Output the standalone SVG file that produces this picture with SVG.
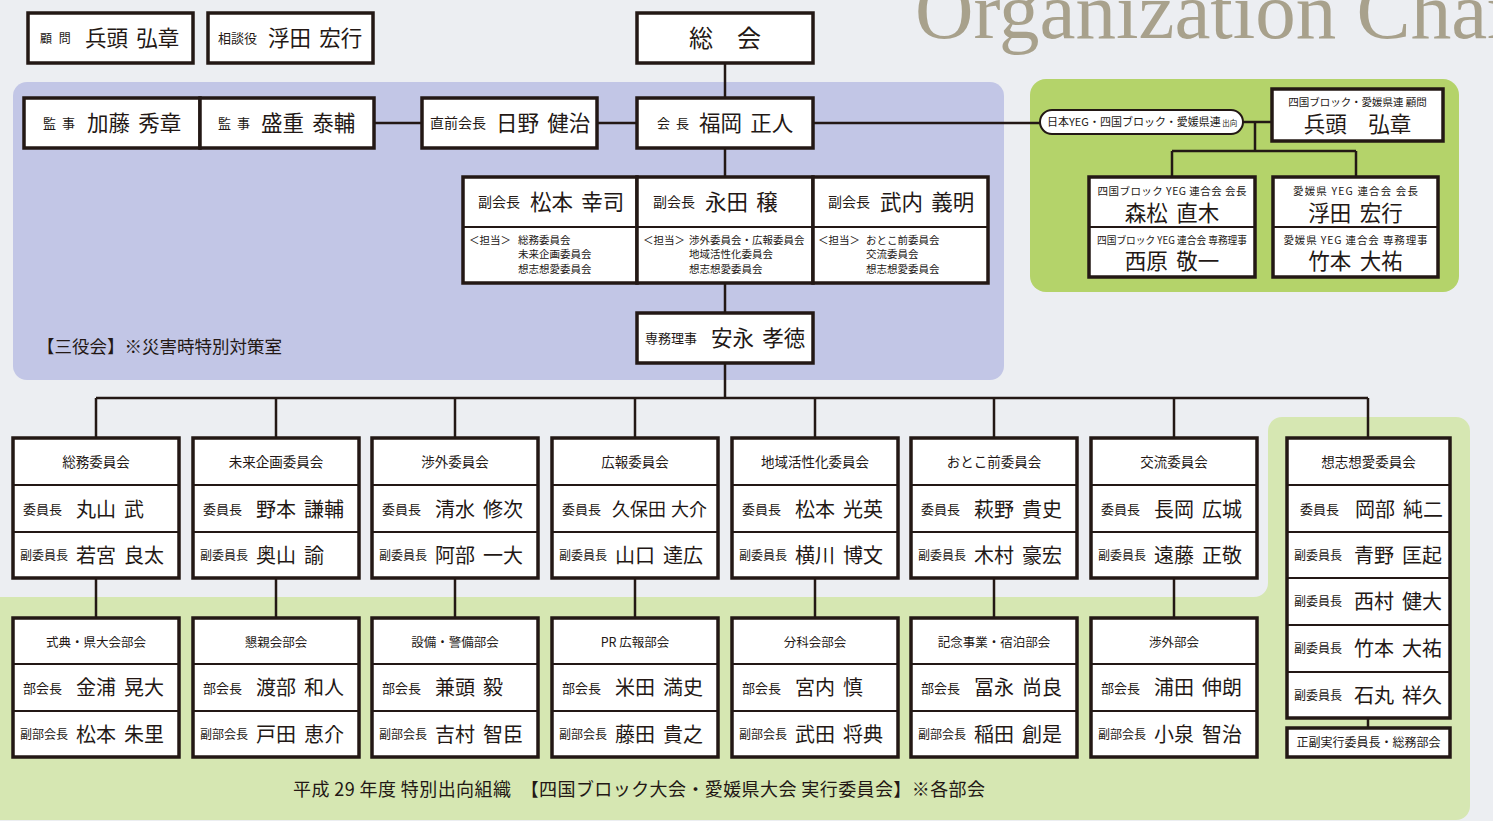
<svg xmlns="http://www.w3.org/2000/svg" width="1493" height="821" viewBox="0 0 1493 821">
<style>
.t{font-family:"Noto Sans CJK JP","Noto Sans",sans-serif;fill:#231815}
.box{fill:#fff;stroke:#231815;stroke-width:3.5}
.dv{stroke:#231815;stroke-width:2;fill:none}
.ln{stroke:#231815;stroke-width:2.5;fill:none}
.nm{font-size:20px;word-spacing:3.5px}
.nb{font-size:21.5px;word-spacing:3.5px}
.l13{font-size:13px;word-spacing:3px}
.l12{font-size:12px}
.l14{font-size:14px}
.hd{font-size:13.5px;text-anchor:middle}
.sh{font-size:12.5px;text-anchor:middle}
.tn{font-size:10.5px}
.gl{font-size:10.5px;text-anchor:middle}
.gn{font-size:21.5px;text-anchor:middle;word-spacing:3.5px}
</style>
<rect width="1493" height="821" fill="#eceef2"/>
<g id="panels">
<rect x="13" y="82" width="991" height="298" rx="14" fill="#c2c6e6"/>
<rect x="1030" y="79" width="429" height="213" rx="16" fill="#b4d36a"/>
<path d="M0,597 H1254 A14,14 0 0 0 1268,583 V431 A14,14 0 0 1 1282,417 H1456 A14,14 0 0 1 1470,431 V806 A14,14 0 0 1 1456,820 H0 Z" fill="#d6e7b2"/>
</g>
<g id="title"><text x="915" y="38" font-family="Liberation Serif" font-size="81" fill="#a8a18c">Organization Chart</text></g>
<g id="connectors" class="ln">
<path d="M725,63V98"/>
<path d="M374,123H422"/>
<path d="M597,123H637"/>
<path d="M813,123H1040"/>
<path d="M1243,122H1272"/>
<path d="M1255,122V151M1172,151H1356M1172,151V177M1356,151V177"/>
<path d="M725,148V177M725,283V313M725,363V398"/>
<path d="M96,398H1368"/>
<path d="M96,398V438M276,398V438M455,398V438M635,398V438M815,398V438M994,398V438M1174,398V438M1368,398V438"/>
<path d="M96,578V618M276,578V618M455,578V618M635,578V618M815,578V618M994,578V618M1174,578V618"/>
<path d="M1368,718V728"/>
</g>
<g id="komon"><rect class="box" x="28" y="13" width="165" height="50"/><text class="t l12" x="40" y="43" style="word-spacing:4px">顧 問</text><text class="t nb" x="85" y="46">兵頭 弘章</text></g>
<g id="sodanyaku"><rect class="box" x="208" y="13" width="165" height="50"/><text class="t l13" x="218" y="43">相談役</text><text class="t nb" x="268" y="46">浮田 宏行</text></g>
<g id="sokai"><rect class="box" x="637" y="13" width="176" height="50"/><text class="t" x="725" y="47" font-size="24" text-anchor="middle">総　会</text></g>
<g id="kanji1"><rect class="box" x="24" y="98" width="176" height="50"/><text class="t l13" x="43" y="128">監 事</text><text class="t nb" x="87" y="131">加藤 秀章</text></g>
<g id="kanji2"><rect class="box" x="200" y="98" width="174" height="50"/><text class="t l13" x="218" y="128">監 事</text><text class="t nb" x="261" y="131">盛重 泰輔</text></g>
<g id="zenkaicho"><rect class="box" x="422" y="98" width="175" height="50"/><text class="t l14" x="430" y="128">直前会長</text><text class="t nb" x="496" y="131">日野 健治</text></g>
<g id="kaicho"><rect class="box" x="637" y="98" width="176" height="50"/><text class="t l13" x="657" y="128">会 長</text><text class="t nb" x="699" y="131">福岡 正人</text></g>
<g id="vp1"><rect class="box" x="463" y="177" width="174" height="106"/><path class="dv" d="M463,227H637"/><text class="t l14" x="478" y="207">副会長</text><text class="t nb" x="530" y="210">松本 幸司</text><text class="t tn" x="469" y="244">＜担当＞</text><text class="t tn" x="518" y="244">総務委員会</text><text class="t tn" x="518" y="258">未来企画委員会</text><text class="t tn" x="518" y="273">想志想愛委員会</text></g>
<g id="vp2"><rect class="box" x="637" y="177" width="176" height="106"/><path class="dv" d="M637,227H813"/><text class="t l14" x="653" y="207">副会長</text><text class="t nb" x="705" y="210">永田 穣</text><text class="t tn" x="643" y="244">＜担当＞</text><text class="t tn" x="689" y="244">渉外委員会・広報委員会</text><text class="t tn" x="689" y="258">地域活性化委員会</text><text class="t tn" x="689" y="273">想志想愛委員会</text></g>
<g id="vp3"><rect class="box" x="813" y="177" width="175" height="106"/><path class="dv" d="M813,227H988"/><text class="t l14" x="828" y="207">副会長</text><text class="t nb" x="880" y="210">武内 義明</text><text class="t tn" x="818" y="244">＜担当＞</text><text class="t tn" x="866" y="244">おとこ前委員会</text><text class="t tn" x="866" y="258">交流委員会</text><text class="t tn" x="866" y="273">想志想愛委員会</text></g>
<g id="senmu"><rect class="box" x="637" y="313" width="176" height="50"/><text class="t l13" x="645" y="343">専務理事</text><text class="t nb" x="711" y="346">安永 孝徳</text></g>
<g id="sanyakukai"><text class="t" x="37" y="353" font-size="17.5">【三役会】※災害時特別対策室</text></g>
<g id="yeg-pill"><rect x="1040" y="110" width="203" height="24" rx="12" fill="#fff" stroke="#231815" stroke-width="2"/><text class="t" x="1047" y="126" font-size="11">日本YEG・四国ブロック・愛媛県連<tspan font-size="7.5"> 出向</tspan></text></g>
<g id="yeg-adviser"><rect class="box" x="1272" y="89" width="171" height="52"/><text class="t gl" x="1357.5" y="106" font-size="11.5">四国ブロック・愛媛県連 顧問</text><text class="t gn" x="1357.5" y="132" font-size="22">兵頭　弘章</text></g>
<g id="shikoku-yeg"><rect class="box" x="1089" y="177" width="166" height="100"/><path class="dv" d="M1089,227H1255"/><text class="t gl" x="1172" y="194.5" textLength="149">四国ブロック YEG 連合会 会長</text><text class="t gn" x="1172" y="220.5">森松 直木</text><text class="t gl" x="1172" y="243.5" font-size="10" textLength="150" lengthAdjust="spacingAndGlyphs">四国ブロック YEG 連合会 専務理事</text><text class="t gn" x="1172" y="268.5">西原 敬一</text></g>
<g id="ehime-yeg"><rect class="box" x="1273" y="177" width="165" height="100"/><path class="dv" d="M1273,227H1438"/><text class="t gl" x="1355.5" y="194.5" font-size="11" textLength="125">愛媛県 YEG 連合会 会長</text><text class="t gn" x="1355.5" y="220.5">浮田 宏行</text><text class="t gl" x="1355.5" y="243.5" font-size="11" textLength="144">愛媛県 YEG 連合会 専務理事</text><text class="t gn" x="1355.5" y="268.5">竹本 大祐</text></g>
<g id="c1"><rect class="box" x="13" y="438" width="166" height="140"/><path class="dv" d="M13,485H179M13,532H179"/><text class="t hd" x="96" y="467">総務委員会</text><text class="t l13" x="23" y="514">委員長</text><text class="t nm" x="76" y="516.5">丸山 武</text><text class="t l12" x="20" y="560">副委員長</text><text class="t nm" x="76" y="563">若宮 良太</text></g>
<g id="c2"><rect class="box" x="193" y="438" width="166" height="140"/><path class="dv" d="M193,485H359M193,532H359"/><text class="t hd" x="276" y="467">未来企画委員会</text><text class="t l13" x="203" y="514">委員長</text><text class="t nm" x="256" y="516.5">野本 謙輔</text><text class="t l12" x="200" y="560">副委員長</text><text class="t nm" x="256" y="563">奥山 諭</text></g>
<g id="c3"><rect class="box" x="372" y="438" width="166" height="140"/><path class="dv" d="M372,485H538M372,532H538"/><text class="t hd" x="455" y="467">渉外委員会</text><text class="t l13" x="382" y="514">委員長</text><text class="t nm" x="435" y="516.5">清水 修次</text><text class="t l12" x="379" y="560">副委員長</text><text class="t nm" x="435" y="563">阿部 一大</text></g>
<g id="c4"><rect class="box" x="552" y="438" width="166" height="140"/><path class="dv" d="M552,485H718M552,532H718"/><text class="t hd" x="635" y="467">広報委員会</text><text class="t l13" x="562" y="514">委員長</text><text class="t" x="612" y="516" font-size="18" style="word-spacing:1px">久保田 大介</text><text class="t l12" x="559" y="560">副委員長</text><text class="t nm" x="615" y="563">山口 達広</text></g>
<g id="c5"><rect class="box" x="732" y="438" width="166" height="140"/><path class="dv" d="M732,485H898M732,532H898"/><text class="t hd" x="815" y="467">地域活性化委員会</text><text class="t l13" x="742" y="514">委員長</text><text class="t nm" x="795" y="516.5">松本 光英</text><text class="t l12" x="739" y="560">副委員長</text><text class="t nm" x="795" y="563">横川 博文</text></g>
<g id="c6"><rect class="box" x="911" y="438" width="166" height="140"/><path class="dv" d="M911,485H1077M911,532H1077"/><text class="t hd" x="994" y="467">おとこ前委員会</text><text class="t l13" x="921" y="514">委員長</text><text class="t nm" x="974" y="516.5">萩野 貴史</text><text class="t l12" x="918" y="560">副委員長</text><text class="t nm" x="974" y="563">木村 豪宏</text></g>
<g id="c7"><rect class="box" x="1091" y="438" width="166" height="140"/><path class="dv" d="M1091,485H1257M1091,532H1257"/><text class="t hd" x="1174" y="467">交流委員会</text><text class="t l13" x="1101" y="514">委員長</text><text class="t nm" x="1154" y="516.5">長岡 広城</text><text class="t l12" x="1098" y="560">副委員長</text><text class="t nm" x="1154" y="563">遠藤 正敬</text></g>
<g id="c8"><rect class="box" x="1287" y="438" width="163" height="280"/><path class="dv" d="M1287,485H1450M1287,532H1450M1287,578H1450M1287,625H1450M1287,672H1450"/><text class="t hd" x="1368.5" y="467">想志想愛委員会</text><text class="t l13" x="1300" y="514">委員長</text><text class="t nm" x="1355" y="516.5">岡部 純二</text><text class="t l12" x="1294" y="559.6">副委員長</text><text class="t nm" x="1354" y="562.6">青野 匡起</text><text class="t l12" x="1294" y="606">副委員長</text><text class="t nm" x="1354" y="609">西村 健大</text><text class="t l12" x="1294" y="653">副委員長</text><text class="t nm" x="1354" y="656">竹本 大祐</text><text class="t l12" x="1294" y="699.6">副委員長</text><text class="t nm" x="1354" y="702.6">石丸 祥久</text></g>
<g id="c8-sub"><rect class="box" x="1287" y="728" width="163" height="29"/><text class="t" x="1368.5" y="747" font-size="12" text-anchor="middle">正副実行委員長・総務部会</text></g>
<g id="s1"><rect class="box" x="13" y="618" width="166" height="139"/><path class="dv" d="M13,664H179M13,711H179"/><text class="t sh" x="96" y="647">式典・県大会部会</text><text class="t l13" x="23" y="692.5">部会長</text><text class="t nm" x="76" y="695">金浦 晃大</text><text class="t l12" x="20" y="738.6">副部会長</text><text class="t nm" x="76" y="741.6">松本 朱里</text></g>
<g id="s2"><rect class="box" x="193" y="618" width="166" height="139"/><path class="dv" d="M193,664H359M193,711H359"/><text class="t sh" x="276" y="647">懇親会部会</text><text class="t l13" x="203" y="692.5">部会長</text><text class="t nm" x="256" y="695">渡部 和人</text><text class="t l12" x="200" y="738.6">副部会長</text><text class="t nm" x="256" y="741.6">戸田 恵介</text></g>
<g id="s3"><rect class="box" x="372" y="618" width="166" height="139"/><path class="dv" d="M372,664H538M372,711H538"/><text class="t sh" x="455" y="647">設備・警備部会</text><text class="t l13" x="382" y="692.5">部会長</text><text class="t nm" x="435" y="695">兼頭 毅</text><text class="t l12" x="379" y="738.6">副部会長</text><text class="t nm" x="435" y="741.6">吉村 智臣</text></g>
<g id="s4"><rect class="box" x="552" y="618" width="166" height="139"/><path class="dv" d="M552,664H718M552,711H718"/><text class="t sh" x="635" y="647">PR 広報部会</text><text class="t l13" x="562" y="692.5">部会長</text><text class="t nm" x="615" y="695">米田 満史</text><text class="t l12" x="559" y="738.6">副部会長</text><text class="t nm" x="615" y="741.6">藤田 貴之</text></g>
<g id="s5"><rect class="box" x="732" y="618" width="166" height="139"/><path class="dv" d="M732,664H898M732,711H898"/><text class="t sh" x="815" y="647">分科会部会</text><text class="t l13" x="742" y="692.5">部会長</text><text class="t nm" x="795" y="695">宮内 慎</text><text class="t l12" x="739" y="738.6">副部会長</text><text class="t nm" x="795" y="741.6">武田 将典</text></g>
<g id="s6"><rect class="box" x="911" y="618" width="166" height="139"/><path class="dv" d="M911,664H1077M911,711H1077"/><text class="t sh" x="994" y="647">記念事業・宿泊部会</text><text class="t l13" x="921" y="692.5">部会長</text><text class="t nm" x="974" y="695">冨永 尚良</text><text class="t l12" x="918" y="738.6">副部会長</text><text class="t nm" x="974" y="741.6">稲田 創是</text></g>
<g id="s7"><rect class="box" x="1091" y="618" width="166" height="139"/><path class="dv" d="M1091,664H1257M1091,711H1257"/><text class="t sh" x="1174" y="647">渉外部会</text><text class="t l13" x="1101" y="692.5">部会長</text><text class="t nm" x="1154" y="695">浦田 伸朗</text><text class="t l12" x="1098" y="738.6">副部会長</text><text class="t nm" x="1154" y="741.6">小泉 智治</text></g>
<g id="footnote"><text class="t" x="293" y="796" font-size="18" textLength="692">平成 29 年度 特別出向組織　【四国ブロック大会・愛媛県大会 実行委員会】※各部会</text></g>
</svg>
